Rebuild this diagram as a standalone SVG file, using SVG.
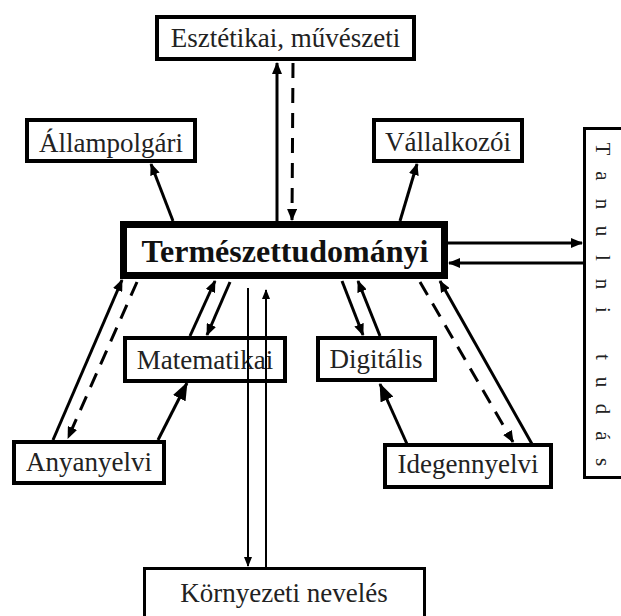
<svg xmlns="http://www.w3.org/2000/svg" width="621" height="616" viewBox="0 0 621 616">
<defs>
<style>
.box{fill:#fff;stroke:#000;stroke-width:4}
.lbl{font-family:"Liberation Serif","Times New Roman",serif;font-size:27px;fill:#222;text-anchor:middle}
.ln{stroke:#000;stroke-width:3;fill:none}
.dash{stroke:#000;stroke-width:3;fill:none;stroke-dasharray:15 10}
.thin{stroke:#000;stroke-width:2;fill:none}
</style>
<marker id="ah" viewBox="0 0 12 10" refX="11" refY="5" markerWidth="12" markerHeight="10" markerUnits="userSpaceOnUse" orient="auto"><path d="M0,0 L12,5 L0,10 z"/></marker>
<marker id="big" viewBox="0 0 18 14" refX="17" refY="7" markerWidth="18" markerHeight="14" markerUnits="userSpaceOnUse" orient="auto"><path d="M0,0 L18,7 L0,14 z"/></marker>
<marker id="sm" viewBox="0 0 10 8" refX="9" refY="4" markerWidth="10" markerHeight="8" markerUnits="userSpaceOnUse" orient="auto"><path d="M0,0 L10,4 L0,8 z"/></marker>
</defs>
<rect width="621" height="616" fill="#fff"/>
<g id="connectors">
<line class="ln" x1="277" y1="222" x2="277" y2="63" marker-end="url(#ah)"/>
<line class="dash" x1="293" y1="63" x2="292" y2="220" marker-end="url(#ah)"/>
<line class="ln" x1="173" y1="221" x2="151" y2="164" marker-end="url(#ah)"/>
<line class="ln" x1="400" y1="221" x2="417" y2="164" marker-end="url(#ah)"/>
<line class="ln" x1="448" y1="243" x2="582" y2="243" marker-end="url(#ah)"/>
<line class="ln" x1="583" y1="263" x2="449" y2="263" marker-end="url(#ah)"/>
<line class="ln" x1="53" y1="440" x2="122" y2="280" marker-end="url(#ah)"/>
<line class="dash" x1="137" y1="282" x2="68" y2="438" marker-end="url(#ah)"/>
<line class="ln" x1="158" y1="440" x2="187" y2="383" marker-end="url(#big)"/>
<line class="ln" x1="190" y1="336" x2="215" y2="281" marker-end="url(#ah)"/>
<line class="ln" x1="230" y1="282" x2="207" y2="335" marker-end="url(#ah)"/>
<line class="ln" x1="342" y1="281" x2="363" y2="335" marker-end="url(#ah)"/>
<line class="ln" x1="380" y1="336" x2="358" y2="281" marker-end="url(#ah)"/>
<line class="ln" x1="407" y1="444" x2="380" y2="384" marker-end="url(#big)"/>
<line class="dash" x1="420" y1="282" x2="513" y2="442" marker-end="url(#ah)"/>
<line class="ln" x1="532" y1="444" x2="440" y2="281" marker-end="url(#ah)"/>
</g>
<g id="n-anyanyelvi"><rect class="box" x="14" y="442" width="150" height="41"/><text class="lbl" x="89" y="471">Anyanyelvi</text></g>
<g id="n-matematikai"><rect class="box" x="125" y="338" width="160" height="43"/><text class="lbl" x="205" y="369">Matematikai</text></g>
<g id="n-digitalis"><rect class="box" x="318" y="338" width="117" height="42"/><text class="lbl" x="376" y="368">Digitális</text></g>
<g id="n-idegennyelvi"><rect class="box" x="385" y="445" width="166" height="42"/><text class="lbl" x="468" y="473">Idegennyelvi</text></g>
<g id="n-esztetikai"><rect class="box" x="157" y="17" width="257" height="42"/><text class="lbl" x="285.5" y="47">Esztétikai, művészeti</text></g>
<g id="n-allampolgari"><rect class="box" x="27" y="120" width="168" height="41"/><text class="lbl" x="111" y="152">Állampolgári</text></g>
<g id="n-vallalkozoi"><rect class="box" x="374" y="120" width="148" height="41"/><text class="lbl" x="448" y="151">Vállalkozói</text></g>
<g id="n-termeszet"><rect x="123.5" y="224.5" width="321" height="51" fill="#fff" stroke="#000" stroke-width="7"/><text x="285" y="262" text-anchor="middle" font-family="'Liberation Serif','Times New Roman',serif" font-size="32" font-weight="bold" fill="#111">Természettudományi</text></g>
<g id="n-tanulni"><rect x="584.5" y="128.5" width="50" height="349" fill="#fff" stroke="#000" stroke-width="3"/><text transform="translate(596,0) rotate(90)" x="149 176 204 231 258 284 310 333 357 382 409 436 462" y="0" text-anchor="middle" font-family="'Liberation Serif','Times New Roman',serif" font-size="21" fill="#222">Tanulni tudás</text></g>
<g id="n-kornyezeti"><rect x="144.5" y="568.5" width="280" height="60" fill="#fff" stroke="#000" stroke-width="3"/><text class="lbl" x="284" y="602">Környezeti nevelés</text></g>
<g id="connectors-thin">
<line class="thin" x1="248" y1="288" x2="248" y2="566" marker-end="url(#sm)"/>
<line class="thin" x1="266" y1="568" x2="266" y2="290" marker-end="url(#sm)"/>
</g>
</svg>
